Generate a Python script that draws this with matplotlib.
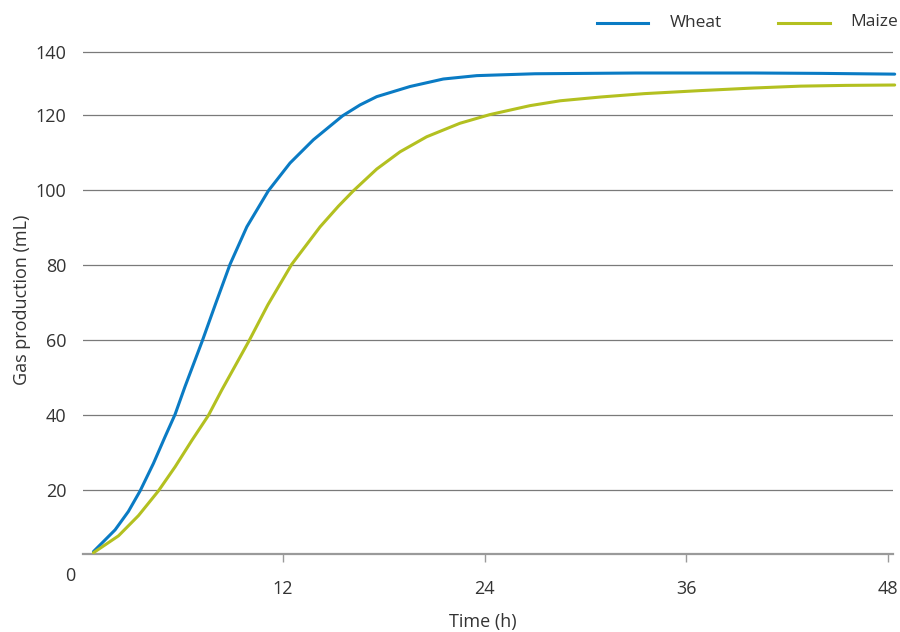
import matplotlib
matplotlib.use("Agg")
import matplotlib.pyplot as plt
from matplotlib.lines import Line2D

plt.rcParams['font.family'] = ['Open Sans', 'DejaVu Sans']

# Data
wheat_t = [0.72, 2.01, 2.80, 3.50, 4.29, 4.99, 5.58, 6.17, 6.77, 7.20, 8.0, 8.85, 9.85,
           11.13, 12.42, 13.81, 15.55, 16.59, 17.58, 19.56, 21.54, 23.53, 24.9, 27.0,
           30.0, 33.0, 36.8, 40.0, 44.0, 48.4]
wheat_v = [3.7, 9.5, 14.4, 19.9, 27.2, 34.4, 40.3, 47.7, 54.8, 59.9, 69.9, 80.3, 90.3,
           99.9, 107.3, 113.5, 119.9, 122.8, 125.0, 127.7, 129.7, 130.6, 130.8, 131.1,
           131.2, 131.3, 131.3, 131.3, 131.2, 131.0]

maize_t = [0.72, 2.21, 3.40, 4.59, 5.58, 6.57, 7.56, 8.36, 9.35, 9.98, 11.1, 12.52,
           14.21, 15.3, 16.19, 17.58, 18.97, 20.55, 22.53, 24.3, 26.7, 28.5, 30.9,
           33.5, 36.8, 40.0, 42.8, 45.5, 48.4]
maize_v = [3.4, 7.9, 13.3, 19.9, 26.3, 33.3, 40.0, 46.8, 54.8, 59.9, 69.5, 80.3,
           90.3, 95.8, 99.9, 105.7, 110.3, 114.3, 117.9, 120.2, 122.6, 123.9, 124.9,
           125.8, 126.6, 127.3, 127.8, 128.0, 128.1]

x_ticks = [12, 24, 36, 48]
y_tick_pos = [20, 40, 60, 80, 100, 120, 137.0]
y_tick_labels = ["20", "40", "60", "80", "100", "120", "140"]

series_names = ["Wheat", "Maize"]
colors = ["#0a7bc4", "#b3c020"]

W, H = 900, 632
fig = plt.figure(figsize=(9, 6.32), dpi=100)
ax = fig.add_axes([83 / W, 1 - 553.5 / H, (893 - 83) / W, (553.5 - 40) / H])
ax.set_xlim(0.1, 48.3)
ax.set_ylim(3.2, 140.1)

ax.plot(wheat_t, wheat_v, color=colors[0], lw=2.2, solid_capstyle='round',
        solid_joinstyle='round', zorder=3, clip_on=False)
ax.plot(maize_t, maize_v, color=colors[1], lw=2.2, solid_capstyle='round',
        solid_joinstyle='round', zorder=3, clip_on=False)

for s in ['top', 'right', 'left']:
    ax.spines[s].set_visible(False)
ax.spines['bottom'].set_color('#9a9a9a')
ax.spines['bottom'].set_linewidth(1.6)

ax.set_xticks(x_ticks)
ax.set_xticklabels([str(t) for t in x_ticks])
ax.tick_params(axis='x', direction='out', length=6, width=1, color='#9a9a9a',
               labelsize=13, labelcolor='#333333', pad=13)
ax.set_yticks(y_tick_pos)
ax.set_yticklabels(y_tick_labels)
ax.tick_params(axis='y', length=0, labelsize=13, labelcolor='#333333', pad=12)
ax.grid(axis='y', color='#7a7a7a', lw=0.9)
ax.set_axisbelow(True)

fig.text(70 / W, 1 - 576 / H, "0", ha='center', va='center', fontsize=13, color='#333333')
fig.text(483 / W, 1 - 622 / H, "Time (h)", ha='center', va='center', fontsize=13, color='#333333')
fig.text(22 / W, 1 - 300 / H, "Gas production (mL)", ha='center', va='center', rotation=90,
         fontsize=13, color='#333333')

# Legend
fig.add_artist(Line2D([597 / W, 648 / W], [1 - 23 / H, 1 - 23 / H], color=colors[0], lw=2.2))
fig.text(670 / W, 1 - 23 / H, series_names[0], ha='left', va='center', fontsize=12.5, color='#333333')
fig.add_artist(Line2D([778 / W, 830 / W], [1 - 23 / H, 1 - 23 / H], color=colors[1], lw=2.2))
fig.text(850 / W, 1 - 22 / H, series_names[1], ha='left', va='center', fontsize=12.5, color='#333333')

fig.savefig("out.png", dpi=100)
